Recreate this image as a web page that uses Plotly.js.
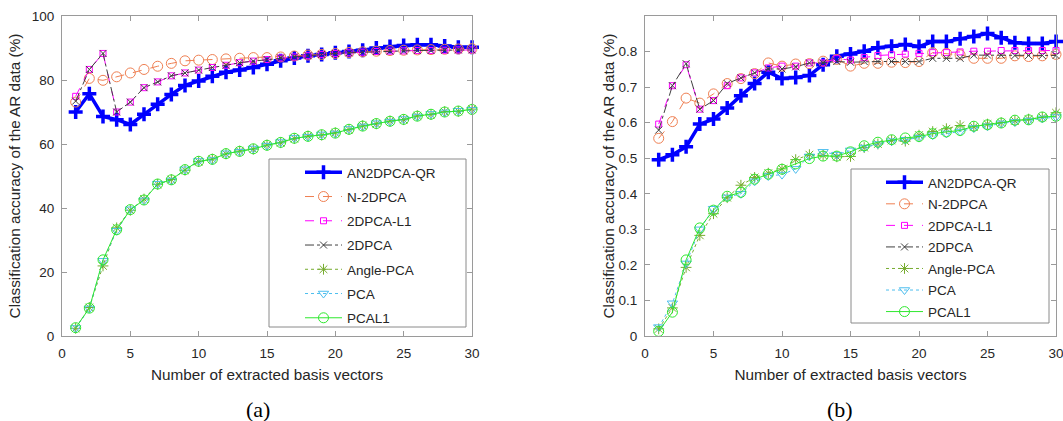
<!DOCTYPE html>
<html>
<head>
<meta charset="utf-8">
<script src="https://cdn.plot.ly/plotly-3.0.1.min.js"></script>
<style>html,body{margin:0;padding:0;background:#fff;}#chart{width:1063px;height:421px;}</style>
</head>
<body>
<div id="chart"></div>
<script>
// ---- data ----
const basisVectors = [1,2,3,4,5,6,7,8,9,10,11,12,13,14,15,16,17,18,19,20,21,22,23,24,25,26,27,28,29,30];
const seriesNames = ["AN2DPCA-QR","N-2DPCA","2DPCA-L1","2DPCA","Angle-PCA","PCA","PCAL1"];

// (a) accuracy in %
const a_AN2DPCA_QR = [70.0,75.7,68.6,67.6,66.1,69.3,72.4,75.5,78.3,79.7,81.2,82.4,83.1,83.9,84.9,86.0,86.9,87.6,88.0,88.5,88.9,89.3,90.0,90.5,90.8,91.0,91.0,90.6,90.2,90.2];
const a_N_2DPCA    = [73.1,80.5,79.9,81.0,82.2,83.3,84.3,85.2,86.0,86.2,86.4,86.6,86.8,87.0,87.0,87.2,87.5,87.8,88.0,88.3,88.6,88.8,89.0,89.2,89.3,89.4,89.5,89.6,89.7,89.8];
const a_2DPCA_L1   = [74.9,83.3,88.3,70.0,73.1,77.6,79.4,81.3,82.2,83.1,83.9,84.6,85.4,85.9,86.4,86.9,87.2,87.6,88.0,88.3,88.5,88.7,88.9,89.0,89.1,89.2,89.2,89.3,89.4,89.4];
const a_2DPCA      = [73.4,83.3,88.3,70.0,73.1,77.6,79.4,81.3,82.2,83.1,83.9,84.6,85.4,85.9,86.4,86.9,87.2,87.6,88.0,88.3,88.5,88.7,88.9,89.0,89.1,89.2,89.2,89.3,89.4,89.4];
const a_Angle_PCA  = [2.4,8.9,21.9,33.8,39.3,42.8,47.4,48.9,51.8,54.5,55.3,56.9,57.8,58.4,59.7,60.4,61.7,62.5,62.8,63.5,64.5,65.7,66.3,67.2,67.6,68.8,69.2,70.1,70.2,70.9];
const a_PCA        = [2.5,8.6,23.5,32.9,39.6,42.4,47.6,48.6,52.1,54.7,55.0,57.1,57.6,58.6,59.5,60.6,61.9,62.3,63.0,63.3,64.7,65.5,66.5,67.0,67.8,68.6,69.4,69.9,70.4,70.7];
const a_PCAL1      = [2.6,8.7,23.8,33.2,39.5,42.5,47.5,48.8,52.0,54.6,55.2,57.0,57.7,58.5,59.6,60.5,61.8,62.4,62.9,63.4,64.6,65.6,66.4,67.1,67.7,68.7,69.3,70.0,70.3,70.8];

// (b) accuracy as fraction
const b_AN2DPCA_QR = [0.496,0.510,0.532,0.596,0.610,0.641,0.676,0.710,0.742,0.724,0.727,0.733,0.763,0.787,0.793,0.801,0.811,0.815,0.820,0.814,0.828,0.828,0.836,0.842,0.851,0.839,0.825,0.823,0.823,0.828];
const b_N_2DPCA    = [0.556,0.603,0.669,0.655,0.681,0.710,0.724,0.738,0.768,0.759,0.765,0.766,0.773,0.778,0.759,0.767,0.767,0.770,0.769,0.772,0.797,0.795,0.791,0.781,0.781,0.781,0.788,0.786,0.788,0.792];
const b_2DPCA_L1   = [0.596,0.704,0.763,0.638,0.662,0.704,0.726,0.740,0.754,0.759,0.759,0.768,0.768,0.780,0.776,0.783,0.789,0.791,0.793,0.795,0.797,0.797,0.799,0.801,0.801,0.803,0.803,0.803,0.803,0.803];
const b_2DPCA      = [0.579,0.704,0.766,0.638,0.662,0.710,0.726,0.740,0.751,0.751,0.757,0.768,0.768,0.772,0.770,0.772,0.772,0.772,0.772,0.772,0.781,0.781,0.781,0.790,0.790,0.790,0.789,0.789,0.789,0.789];
const b_Angle_PCA  = [0.020,0.079,0.193,0.283,0.344,0.389,0.424,0.446,0.458,0.470,0.496,0.510,0.508,0.504,0.505,0.530,0.540,0.550,0.548,0.565,0.575,0.583,0.592,0.588,0.596,0.600,0.605,0.610,0.615,0.628];
const b_PCA        = [0.025,0.092,0.204,0.300,0.358,0.390,0.400,0.435,0.450,0.454,0.470,0.505,0.518,0.510,0.522,0.530,0.540,0.548,0.552,0.558,0.565,0.570,0.575,0.585,0.590,0.598,0.602,0.606,0.612,0.616];
const b_PCAL1      = [0.013,0.067,0.214,0.304,0.354,0.393,0.404,0.441,0.455,0.469,0.484,0.499,0.506,0.506,0.518,0.535,0.545,0.552,0.557,0.561,0.569,0.574,0.578,0.590,0.594,0.599,0.607,0.608,0.616,0.618];

const xTicks = [0,5,10,15,20,25,30];
const aYTicks = [0,20,40,60,80,100];
const bYTicks = [0,0.1,0.2,0.3,0.4,0.5,0.6,0.7,0.8];
const xTitle = "Number of extracted basis vectors";
const yTitle = "Classification accuracy of the AR data (%)";
const panelLabels = ["(a)","(b)"];

// ---- styles ----
const styles = [
  {line:{color:'#0000ff',width:3.5,dash:'solid'}, marker:{symbol:'cross-thin-open',size:10,color:'#0000ff',line:{color:'#0000ff',width:3.5}}},
  {line:{color:'#ef7f52',width:1,dash:'dash'}, marker:{symbol:'circle-open',size:10,color:'#ef7f52',line:{color:'#ef7f52',width:1}}},
  {line:{color:'#ff00ff',width:1,dash:'dash'}, marker:{symbol:'square-open',size:6,color:'#ff00ff',line:{color:'#ff00ff',width:1}}},
  {line:{color:'#404040',width:1,dash:'dashdot'}, marker:{symbol:'x-thin-open',size:7,color:'#404040',line:{color:'#404040',width:1}}},
  {line:{color:'#77ac30',width:1,dash:'dot'}, marker:{symbol:'asterisk-open',size:9,color:'#77ac30',line:{color:'#77ac30',width:1}}},
  {line:{color:'#4dbeee',width:1,dash:'dot'}, marker:{symbol:'triangle-down-open',size:9,color:'#4dbeee',line:{color:'#4dbeee',width:1}}},
  {line:{color:'#2ee82e',width:1,dash:'solid'}, marker:{symbol:'circle-open',size:10,color:'#2ee82e',line:{color:'#2ee82e',width:1}}}
];

const aSeries = [a_AN2DPCA_QR,a_N_2DPCA,a_2DPCA_L1,a_2DPCA,a_Angle_PCA,a_PCA,a_PCAL1];
const bSeries = [b_AN2DPCA_QR,b_N_2DPCA,b_2DPCA_L1,b_2DPCA,b_Angle_PCA,b_PCA,b_PCAL1];

const traces = [];
aSeries.forEach((ys,i)=>traces.push({
  type:'scatter', mode:'lines+markers', x:basisVectors, y:ys, name:seriesNames[i],
  xaxis:'x', yaxis:'y', legend:'legend', legendgroup:'a'+i, cliponaxis:false,
  line:styles[i].line, marker:styles[i].marker
}));
bSeries.forEach((ys,i)=>traces.push({
  type:'scatter', mode:'lines+markers', x:basisVectors, y:ys, name:seriesNames[i],
  xaxis:'x2', yaxis:'y2', legend:'legend2', legendgroup:'b'+i, cliponaxis:false,
  line:styles[i].line, marker:styles[i].marker
}));

const W = 1063, H = 421;
const px = v => v / W;
const py = v => (H - v) / H;

const axisCommon = {
  showgrid:false, zeroline:false, showline:true, linecolor:'#9a9a9a', linewidth:1,
  mirror:'ticks', ticks:'inside', ticklen:5, tickcolor:'#9a9a9a', ticklabeloverflow:'allow',
  tickfont:{family:'Liberation Sans, Arial, sans-serif', size:13.5, color:'#262626'},
  fixedrange:true
};
const titleFont = {family:'Liberation Sans, Arial, sans-serif', size:15.3, color:'#262626'};

const yDomain = [py(336), py(16)];

const legendCommon = {
  bgcolor:'rgba(0,0,0,0)', borderwidth:0, font:{family:'Liberation Sans, Arial, sans-serif', size:13.5, color:'#262626'},
  traceorder:'grouped', itemwidth:37, xanchor:'left', yanchor:'top'
};

const layout = {
  width:W, height:H, margin:{l:0,r:0,t:0,b:0}, paper_bgcolor:'#fff', plot_bgcolor:'#fff',
  showlegend:true,
  xaxis:Object.assign({}, axisCommon, {domain:[px(62),px(472)], range:[0,30], tickvals:xTicks, anchor:'y', ticklabelstandoff:5,
    title:{text:xTitle, font:titleFont, standoff:9}}),
  yaxis:Object.assign({}, axisCommon, {domain:yDomain, range:[0,100], tickvals:aYTicks, anchor:'x', ticklabelstandoff:4,
    title:{text:yTitle, font:titleFont, standoff:7}}),
  xaxis2:Object.assign({}, axisCommon, {domain:[px(645),px(1056)], range:[0,30], tickvals:xTicks, anchor:'y2', ticklabelstandoff:5,
    title:{text:xTitle, font:titleFont, standoff:9}}),
  yaxis2:Object.assign({}, axisCommon, {domain:yDomain, range:[0,0.9], tickvals:bYTicks, anchor:'x2', ticklabelstandoff:4,
    title:{text:yTitle, font:titleFont, standoff:0}}),
  legend:Object.assign({}, legendCommon, {x:px(269+31), y:py(157), tracegroupgap:3.7}),
  legend2:Object.assign({}, legendCommon, {x:px(851+30), y:py(167), tracegroupgap:1}),
  shapes:[
    {type:'rect', xref:'paper', yref:'paper', x0:px(269), x1:px(466), y0:py(327), y1:py(159), line:{color:'#8a8a8a',width:1}, fillcolor:'#ffffff', layer:'above'},
    {type:'rect', xref:'paper', yref:'paper', x0:px(851), x1:px(1049), y0:py(323), y1:py(169), line:{color:'#8a8a8a',width:1}, fillcolor:'#ffffff', layer:'above'}
  ],
  annotations:[
    {text:panelLabels[0], xref:'paper', yref:'paper', x:px(258), y:py(409), xanchor:'center', yanchor:'middle', showarrow:false,
     font:{family:'Liberation Serif, Times New Roman, serif', size:22, color:'#000'}},
    {text:panelLabels[1], xref:'paper', yref:'paper', x:px(840), y:py(409), xanchor:'center', yanchor:'middle', showarrow:false,
     font:{family:'Liberation Serif, Times New Roman, serif', size:22, color:'#000'}}
  ]
};

Plotly.newPlot('chart', traces, layout, {displayModeBar:false, staticPlot:true});
</script>
</body>
</html>
